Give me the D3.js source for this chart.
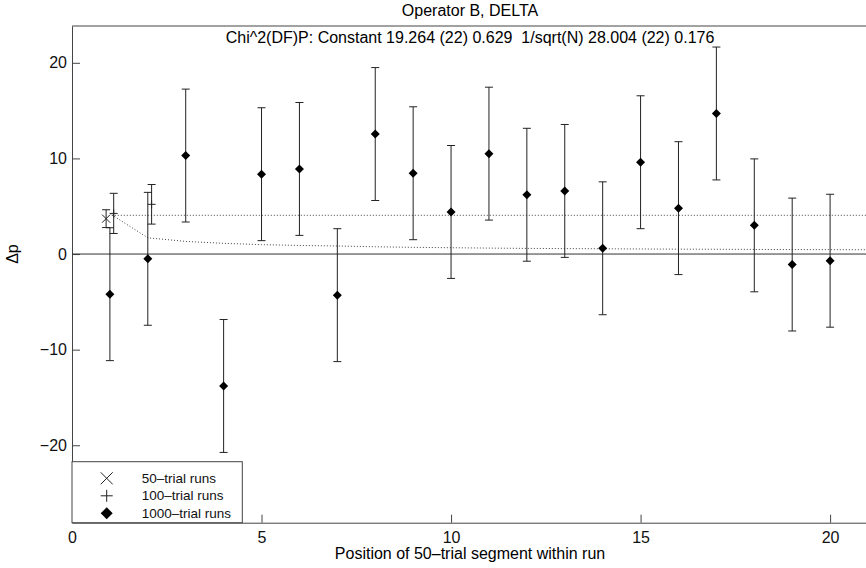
<!DOCTYPE html>
<html>
<head>
<meta charset="utf-8">
<script src="https://cdn.jsdelivr.net/npm/d3@7"></script>
<style>
  body { margin: 0; background: #fff; }
  svg { display: block; font-family: "Liberation Sans", Arial, Helvetica, sans-serif; }
</style>
</head>
<body>
<div id="chart"></div>
<script>
// 1000-trial runs: segment position, delta p, error
const pos1000 = [1, 2, 3, 4, 5, 6, 7, 8, 9, 10, 11, 12, 13, 14, 15, 16, 17, 18, 19, 20];
const val1000 = [-4.2, -0.5, 10.3, -13.8, 8.35, 8.9, -4.3, 12.55, 8.45, 4.4, 10.5, 6.2, 6.6, 0.6, 9.6, 4.8, 14.7, 3.0, -1.1, -0.7];
const err1000 = 6.95;

// 100-trial runs
const pos100 = [1.1, 2.1];
const val100 = [4.25, 5.2];
const err100 = [2.1, 2.07];

// 50-trial runs
const pos50 = [0.9];
const val50 = [3.7];
const err50 = [0.93];

// fits
const constFit = 4.05;
const fitX = [1.05, 2, 3, 4, 5, 6, 7, 8, 9, 10, 11, 12, 13, 14, 15, 16, 17, 18, 19, 20, 21];
const fitY = [4.1, 1.7, 1.32, 1.12, 0.98, 0.9, 0.84, 0.76, 0.7, 0.66, 0.62, 0.59, 0.57, 0.55, 0.53, 0.51, 0.5, 0.48, 0.47, 0.46, 0.45];

const xTicks = [0, 5, 10, 15, 20];
const yTicks = [-20, -10, 0, 10, 20];

const width = 866, height = 568;
const plotL = 72, plotR = 868, plotT = 26, plotB = 522.7;

const svg = d3.select('#chart').append('svg')
  .attr('width', width)
  .attr('height', height);

const x = d3.scaleLinear().domain([0, 21]).range([plotL, plotR]);
const y = d3.scaleLinear().domain([-28.1, 23.85]).range([plotB, plotT]);

const axisColor = '#444';

// axes (ticks inside, like matlab)
const gx = svg.append('g')
  .attr('transform', `translate(0,${plotB})`)
  .call(d3.axisBottom(x).tickValues(xTicks).tickSizeInner(-8).tickSizeOuter(0).tickPadding(9));
const gy = svg.append('g')
  .attr('transform', `translate(${plotL},0)`)
  .call(d3.axisLeft(y).tickValues(yTicks).tickSizeInner(-8).tickSizeOuter(0).tickPadding(5)
    .tickFormat(d => d < 0 ? '\u2212' + Math.abs(d) : d));
[gx, gy].forEach(g => {
  g.selectAll('path, line').attr('stroke', axisColor);
  g.selectAll('text').attr('fill', '#111').style('font-size', '16px');
});

// top border
svg.append('line')
  .attr('x1', plotL).attr('x2', plotR)
  .attr('y1', plotT).attr('y2', plotT)
  .attr('stroke', axisColor);

// zero line
svg.append('line')
  .attr('x1', plotL).attr('x2', plotR)
  .attr('y1', y(0)).attr('y2', y(0))
  .attr('stroke', '#333');

// fit lines
svg.append('line')
  .attr('x1', x(fitX[0])).attr('x2', plotR)
  .attr('y1', y(constFit)).attr('y2', y(constFit))
  .attr('stroke', '#444')
  .attr('stroke-dasharray', '1,2');

const curve = d3.line().x((d, i) => x(fitX[i])).y(d => y(d));
svg.append('path')
  .attr('d', curve(fitY))
  .attr('fill', 'none')
  .attr('stroke', '#444')
  .attr('stroke-dasharray', '1,2');

// error bars
function errorBar(g, px, v, e) {
  const cx = x(px), cap = 4;
  g.append('line').attr('x1', cx).attr('x2', cx).attr('y1', y(v - e)).attr('y2', y(v + e));
  g.append('line').attr('x1', cx - cap).attr('x2', cx + cap).attr('y1', y(v + e)).attr('y2', y(v + e));
  g.append('line').attr('x1', cx - cap).attr('x2', cx + cap).attr('y1', y(v - e)).attr('y2', y(v - e));
}

const bars = svg.append('g').attr('stroke', '#222').attr('stroke-width', 1);
pos1000.forEach((p, i) => errorBar(bars, p, val1000[i], err1000));
pos100.forEach((p, i) => errorBar(bars, p, val100[i], err100[i]));
pos50.forEach((p, i) => errorBar(bars, p, val50[i], err50[i]));

// markers
const diamond = s => `M0,${-s}L${s},0L0,${s}L${-s},0Z`;
const plus = s => `M${-s},0H${s}M0,${-s}V${s}`;
const cross = s => `M${-s},${-s}L${s},${s}M${-s},${s}L${s},${-s}`;

svg.append('g').selectAll('path')
  .data(pos1000)
  .enter()
  .append('path')
  .attr('d', diamond(4.5))
  .attr('transform', (d, i) => `translate(${x(d)},${y(val1000[i])})`)
  .attr('fill', '#000');

svg.append('g').selectAll('path')
  .data(pos100)
  .enter()
  .append('path')
  .attr('d', plus(4))
  .attr('transform', (d, i) => `translate(${x(d)},${y(val100[i])})`)
  .attr('stroke', '#222');

svg.append('g').selectAll('path')
  .data(pos50)
  .enter()
  .append('path')
  .attr('d', cross(4))
  .attr('transform', (d, i) => `translate(${x(d)},${y(val50[i])})`)
  .attr('stroke', '#222');

// legend
const legendItems = [
  { label: '50\u2013trial runs', shape: cross(6), fill: 'none' },
  { label: '100\u2013trial runs', shape: plus(6), fill: 'none' },
  { label: '1000\u2013trial runs', shape: diamond(6), fill: '#000' }
];
const legend = svg.append('g');
legend.append('rect')
  .attr('x', plotL).attr('y', 461.7)
  .attr('width', 170.3).attr('height', plotB - 461.7)
  .attr('fill', '#fff')
  .attr('stroke', axisColor);
const li = legend.selectAll('g.item')
  .data(legendItems)
  .enter()
  .append('g')
  .attr('transform', (d, i) => `translate(106.7,${478.3 + i * 17.5})`);
li.append('path')
  .attr('d', d => d.shape)
  .attr('fill', d => d.fill)
  .attr('stroke', d => d.fill === 'none' ? '#222' : 'none');
li.append('text')
  .attr('x', 35)
  .attr('y', 4.5)
  .text(d => d.label)
  .style('font-size', '13.5px')
  .attr('fill', '#111');

// titles
svg.append('text')
  .attr('x', x(10.5)).attr('y', 16)
  .attr('text-anchor', 'middle')
  .style('font-size', '16px')
  .text('Operator B, DELTA');
svg.append('text')
  .attr('x', x(10.5)).attr('y', 43)
  .attr('text-anchor', 'middle')
  .style('font-size', '16px')
  .style('white-space', 'pre')
  .text('Chi^2(DF)P: Constant 19.264 (22) 0.629  1/sqrt(N) 28.004 (22) 0.176');
svg.append('text')
  .attr('x', x(10.5)).attr('y', 559)
  .attr('text-anchor', 'middle')
  .style('font-size', '16px')
  .text('Position of 50\u2013trial segment within run');
svg.append('text')
  .attr('transform', `translate(18,${y(0)}) rotate(-90)`)
  .attr('text-anchor', 'middle')
  .style('font-size', '16px')
  .text('\u0394p');
</script>
</body>
</html>
